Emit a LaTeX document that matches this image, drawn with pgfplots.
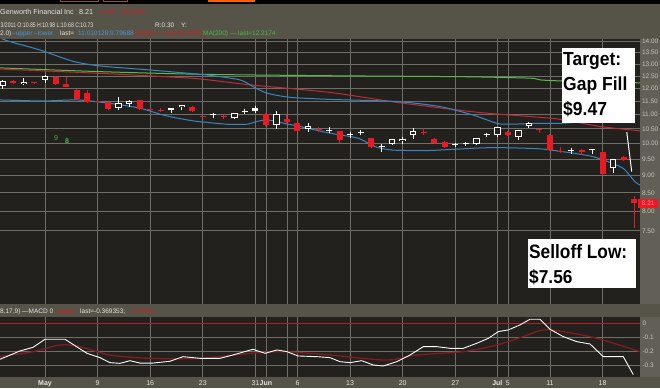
\documentclass[border=0pt]{standalone}
\usepackage{pgfplots}
\pgfplotsset{compat=1.18}
\usepackage{fontspec}
\setmainfont{Liberation Sans}
\definecolor{bgdark}{RGB}{35,33,30}
\definecolor{hdr}{RGB}{86,83,73}
\definecolor{strip}{RGB}{98,95,86}
\definecolor{gridc}{RGB}{112,110,104}
\definecolor{cred}{RGB}{235,25,35}
\definecolor{mared}{RGB}{190,45,55}
\definecolor{magreen}{RGB}{85,190,70}
\definecolor{bbblue}{RGB}{55,135,195}
\definecolor{sigred}{RGB}{130,28,32}
\definecolor{zred}{RGB}{185,30,40}
\definecolor{txtw}{RGB}{230,230,225}
\definecolor{txtb}{RGB}{70,150,215}
\definecolor{txtr}{RGB}{210,30,35}
\definecolor{txtg}{RGB}{70,190,60}
\newcommand\hf{\fontsize{6.5}{7}\selectfont}
% candles: index, open, high, low, close
\newcommand\cR[5]{%
 \addplot[cred, line width=1pt] coordinates {(#1,#4) (#1,#3)};
 \addplot[cred, line width=6pt] coordinates {(#1,#2) (#1,#5)};}
\newcommand\cW[5]{%
 \addplot[white, line width=1pt] coordinates {(#1,#4) (#1,#3)};
 \addplot[white, line width=6.5pt] coordinates {(#1,#2) (#1,#5)};
 \addplot[bgdark, line width=4.5pt, shorten <=1pt, shorten >=1pt] coordinates {(#1,#2) (#1,#5)};}
\newcommand\cX[5]{%
 \addplot[white, line width=1pt] coordinates {(#1,#4) (#1,#3)};
 \addplot[white, line width=6pt] coordinates {(#1,#2) (#1,#5)};}
\begin{document}
\begin{tikzpicture}[x=1pt,y=1pt]
\useasboundingbox (0,0) rectangle (660,388);
\clip (0,0) rectangle (660,388);
\fill[hdr] (0,0) rectangle (660,388);
\fill[black] (0,384) rectangle (660,388);
\fill[orange!75!red] (208,386.2) rectangle (255,388);
\draw[brown!70!black, line width=0.6pt] (60,386.5) rectangle (98,389);
\draw[brown!70!black, line width=0.6pt] (103,386.5) rectangle (127,389);
\fill[strip] (640,11.3) rectangle (660,348.5);
\fill[hdr] (640,71) rectangle (660,84);

\begin{axis}[
 at={(0pt,84pt)}, anchor=south west, scale only axis,
 width=640pt, height=264.5pt,
 xmin=-4.278, xmax=56.56,
 ymode=log, ymin=5.89, ymax=14.10,
 axis background/.style={fill=bgdark},
 axis line style={draw=none},
 major tick length=0pt,
 xtick={0,5,10,15,20,21,23,24,29,34,39,43,44,48,53},
 xticklabels={,,,,,,,,,,,,,,},
 ytick={7.5,8,8.5,9,9.5,10,10.5,11,11.5,12,12.5,13,13.5,14},
 yticklabels={7.50,8.00,8.50,9.00,9.50,10.00,10.50,11.00,11.50,12.00,12.50,13.00,13.50,14.00},
 yticklabel pos=right,
 yticklabel style={font=\fontsize{6.5}{7}\selectfont, text=txtw!85!black, anchor=west, xshift=-1.5pt},
 extra y ticks={8.21}, extra y tick labels={8.21},
 extra y tick style={grid=none, yticklabel style={fill=cred, text=red!45!white, minimum width=20pt, minimum height=9pt, inner sep=0.5pt, anchor=west, xshift=-0.5pt}},
 grid=major, grid style={gridc, line width=0.7pt},
]
% MA(200)
\addplot[magreen, line width=1pt, smooth, tension=0.4] coordinates {(-4.28,12.84) (5.23,12.68) (14.73,12.57) (27.09,12.51) (39.73,12.47) (46.1,12.41) (47.05,12.34) (48.95,12.30) (56.56,12.22)};
% MA(50)
\addplot[mared, line width=1pt, smooth, tension=0.4] coordinates {(-4.28,12.79) (5.23,12.61) (11.41,12.47) (14.73,12.38) (19.49,12.14) (27.09,11.84) (33.75,11.44) (39.92,11.14) (42.78,11.03) (48.67,10.85) (52.76,10.58) (56.56,10.43)};
% Bollinger upper
\addplot[bbblue, line width=1pt, smooth, tension=0.4] coordinates {(-4.28,14.17) (-3.33,14.00) (-0.48,13.62) (2.66,13.12) (5.23,12.92) (9.98,12.75) (15.4,12.54) (18.54,12.34) (19.77,12.07) (21.1,11.81) (23.29,11.65) (27.09,11.57) (33.46,11.49) (37.55,11.30) (40.68,10.99) (42.97,10.69) (44.2,10.66) (46.77,10.69) (48.95,10.69) (52.76,10.78) (55.89,10.88)};
% Bollinger lower
\addplot[bbblue, line width=1pt, smooth, tension=0.4] coordinates {(-4.28,11.55) (-0.19,11.51) (3.04,11.55) (6.18,11.42) (9.03,11.24) (11.41,10.97) (14.07,10.78) (17.3,10.66) (19.2,10.66) (20.15,10.76) (21.2,10.81) (23.0,10.67) (24.24,10.58) (27.09,10.35) (29.75,10.18) (31.37,9.90) (32.98,9.79) (36.12,9.77) (39.26,9.82) (40.87,9.85) (42.78,9.87) (45.44,9.85) (47.34,9.82) (50.19,9.69) (51.81,9.60) (53.04,9.48) (54.94,9.22) (56.08,8.82) (56.56,8.72)};
% candles
\cW{-4}{12.10}{12.32}{11.96}{12.30}
\cR{-3}{12.30}{12.32}{12.19}{12.21}
\cW{-2}{12.18}{12.41}{12.12}{12.27}
\cR{-1}{12.24}{12.25}{12.19}{12.20}
\cW{0}{12.34}{12.52}{12.20}{12.50}
\cR{1}{12.46}{12.51}{12.14}{12.16}
\cR{2}{12.16}{12.44}{12.05}{12.07}
\cR{3}{11.95}{11.97}{11.58}{11.60}
\cR{4}{11.83}{11.92}{11.45}{11.47}
\cR{5}{11.50}{11.51}{11.45}{11.46}
\cR{6}{11.46}{11.47}{11.19}{11.21}
\cW{7}{11.24}{11.68}{11.17}{11.45}
\cW{8}{11.39}{11.53}{11.30}{11.51}
\cR{9}{11.54}{11.56}{11.19}{11.21}
\cR{10}{11.22}{11.24}{11.17}{11.19}
\cR{11}{11.19}{11.26}{11.10}{11.16}
\cX{12}{11.19}{11.25}{11.05}{11.24}
\cW{13}{11.27}{11.37}{11.17}{11.36}
\cR{14}{11.30}{11.33}{11.10}{11.12}
\cR{15}{10.95}{10.97}{10.90}{10.92}
\cX{16}{10.99}{11.08}{10.88}{11.02}
\cR{17}{10.95}{11.00}{10.86}{10.92}
\cW{18}{10.87}{11.06}{10.86}{11.05}
\cX{19}{11.11}{11.21}{11.03}{11.14}
\cX{20}{11.12}{11.33}{11.05}{11.24}
\cR{21}{11.03}{11.06}{10.60}{10.63}
\cW{22}{10.63}{11.12}{10.50}{11.03}
\cR{23}{10.85}{10.98}{10.68}{10.73}
\cR{24}{10.70}{10.72}{10.38}{10.41}
\cW{25}{10.48}{10.70}{10.40}{10.60}
\cR{26}{10.50}{10.56}{10.40}{10.47}
\cX{27}{10.44}{10.57}{10.35}{10.47}
\cR{28}{10.41}{10.43}{10.03}{10.12}
\cX{29}{10.29}{10.40}{10.17}{10.32}
\cX{30}{10.36}{10.46}{10.29}{10.39}
\cR{31}{10.18}{10.20}{9.86}{9.88}
\cX{32}{9.89}{10.00}{9.74}{9.92}
\cW{33}{10.00}{10.16}{9.96}{10.15}
\cW{34}{10.07}{10.23}{10.00}{10.15}
\cW{35}{10.28}{10.52}{10.15}{10.42}
\cR{36}{10.40}{10.52}{10.30}{10.37}
\cR{37}{10.15}{10.17}{10.00}{10.03}
\cR{38}{10.06}{10.08}{9.86}{9.88}
\cX{39}{9.97}{10.02}{9.90}{10.00}
\cX{40}{9.99}{10.05}{9.93}{10.02}
\cW{41}{10.00}{10.18}{9.94}{10.17}
\cX{42}{10.29}{10.37}{10.21}{10.32}
\cW{43}{10.30}{10.58}{10.22}{10.56}
\cR{44}{10.40}{10.42}{10.27}{10.29}
\cW{45}{10.23}{10.47}{10.12}{10.45}
\cW{46}{10.60}{10.75}{10.52}{10.70}
\cR{47}{10.50}{10.51}{10.35}{10.47}
\cR{48}{10.30}{10.32}{9.77}{9.79}
\cR{49}{9.76}{9.90}{9.71}{9.73}
\cX{50}{9.75}{9.87}{9.66}{9.78}
\cR{51}{9.80}{9.81}{9.64}{9.74}
\cX{52}{9.78}{9.81}{9.65}{9.81}
\cR{53}{9.74}{9.76}{9.03}{9.05}
\cW{54}{9.22}{9.52}{9.09}{9.50}
\cR{55}{9.56}{9.60}{9.44}{9.47}
\cR{56}{8.34}{8.40}{7.56}{8.21}
% gap line
\addplot[white, line width=1pt] coordinates {(55.3,10.39) (55.77,9.12)};
\node[text=green!40!gray, font=\fontsize{7}{7}\selectfont] at (axis cs:1.05,10.19) {9};
\node[text=green!50!gray, font=\fontsize{7}{7}\selectfont\bfseries] at (axis cs:2.09,10.09) {8};
\end{axis}

\begin{axis}[
 at={(0pt,11.3pt)}, anchor=south west, scale only axis,
 width=640pt, height=59.7pt,
 xmin=-4.278, xmax=56.56, ymin=-0.384, ymax=0.045,
 axis background/.style={fill=bgdark},
 axis line style={draw=none},
 major tick length=0pt,
 xtick={0,5,10,15,20,21,23,24,29,34,39,43,44,48,53},
 xticklabels={\textbf{May},9,16,23,31,\textbf{Jun},,6,13,20,27,\textbf{Jul},5,11,18},
 xticklabel style={font=\fontsize{7}{8}\selectfont, text=txtw},
 ytick={-0.3,-0.2,-0.1,0},
 yticklabels={-0.3,-0.2,-0.1,0},
 yticklabel pos=right,
 yticklabel style={font=\fontsize{6.5}{7}\selectfont, text=txtw!85!black, anchor=west, xshift=-1pt},
 grid=major, grid style={gridc, line width=0.7pt},
]
\addplot[zred, line width=1pt] coordinates {(-5,0) (57,0)};
\addplot[sigred, line width=1.3pt, smooth, tension=0.5] coordinates {(-4.28,-0.240) (-1.14,-0.204) (1.43,-0.156) (3.33,-0.168) (6.18,-0.228) (9.98,-0.252) (14.73,-0.252) (19.49,-0.216) (22.62,-0.204) (27.09,-0.228) (30.23,-0.252) (32.79,-0.264) (35.36,-0.228) (39.73,-0.204) (42.97,-0.156) (45.44,-0.096) (47.34,-0.048) (49.24,-0.060) (52.47,-0.108) (56.56,-0.204)};
\addplot[white, line width=0.9pt] coordinates {(-4.28,-0.259) (-2.38,-0.199) (-1.14,-0.173) (0,-0.115) (1.90,-0.115) (3.99,-0.216) (5.23,-0.247) (6.18,-0.283) (7.13,-0.288) (8.08,-0.269) (9.03,-0.286) (10.27,-0.286) (11.88,-0.273) (13.12,-0.240) (14.73,-0.252) (16.63,-0.252) (17.87,-0.228) (19.77,-0.187) (20.91,-0.216) (22.05,-0.192) (23.0,-0.204) (24.05,-0.235) (25.86,-0.240) (27.09,-0.247) (28.04,-0.276) (28.99,-0.283) (30.1,-0.269) (31.21,-0.300) (32.16,-0.307) (33.43,-0.276) (34.7,-0.228) (35.96,-0.168) (37.23,-0.168) (38.5,-0.180) (39.76,-0.180) (41.04,-0.144) (42.14,-0.108) (43.09,-0.060) (44.04,-0.048) (45.15,-0.012) (46.1,0.029) (47.05,0.029) (48.0,-0.043) (49.27,-0.096) (50.54,-0.132) (51.81,-0.149) (53.07,-0.240) (54.97,-0.240) (55.92,-0.369)};
\end{axis}

% header texts
\node[anchor=base west, inner sep=0, text=txtw, font=\fontsize{7.2}{8}\selectfont] at (0,373) {Genworth Financial Inc};
\node[anchor=base west, inner sep=0, text=txtw, font=\fontsize{7.2}{8}\selectfont] at (79,373) {8.21};
\node[anchor=base west, inner sep=0, text=txtr, font=\fontsize{7.2}{8}\selectfont] at (98,373) {-1.26\ \ -13.31\%};
\node[anchor=base west, inner sep=0, text=txtw] at (0.5,360.7) {\scalebox{0.78}[1]{\fontsize{6.6}{7}\selectfont 3/2011 O:10.85 H:10.98 L:10.68 C:10.73}};
\node[anchor=base west, inner sep=0, text=txtw, font=\fontsize{6.5}{7}\selectfont] at (155,360.7) {R:0.30};
\node[anchor=base west, inner sep=0, text=txtw, font=\fontsize{6.5}{7}\selectfont] at (181,360.7) {Y:};
\node[anchor=base west, inner sep=0, text=txtw, font=\hf] at (0,352) {2.0)};
\node[anchor=base west, inner sep=0, text=txtb, font=\hf] at (12,352) {--upper --lower};
\node[anchor=base west, inner sep=0, text=txtw, font=\hf] at (60,352) {last=};
\node[anchor=base west, inner sep=0, text=txtb, font=\hf] at (78,352) {11.010128;9.79688};
\node[anchor=base west, inner sep=0, text=txtr, font=\hf] at (134,352) {MA(50) --- last=10.4302};
\node[anchor=base west, inner sep=0, text=txtg, font=\hf] at (203,352) {MA(200) --- last=12.2174};
% MACD band text
\node[anchor=base west, inner sep=0, text=txtw, font=\hf] at (0,75) {8,17,9) ---MACD 0};
\node[anchor=base west, inner sep=0, text=txtr, font=\hf] at (57,75) {signal};
\node[anchor=base west, inner sep=0, text=txtw, font=\hf] at (80,75) {last=-0.369353;};
\node[anchor=base west, inner sep=0, text=txtr, font=\hf] at (131,75) {-0.2046};
% annotation boxes
\fill[white] (562,264.7) rectangle (635,340.3);
\node[anchor=base west, inner sep=0, font=\fontsize{17.5}{20}\bfseries\selectfont] at (563,322.5) {\scalebox{1}[1.08]{Target:}};
\node[anchor=base west, inner sep=0, font=\fontsize{17.5}{20}\bfseries\selectfont] at (563,297.5) {\scalebox{1}[1.08]{Gap Fill}};
\node[anchor=base west, inner sep=0, font=\fontsize{17.5}{20}\bfseries\selectfont] at (563,272.5) {\scalebox{1}[1.08]{\$9.47}};
\fill[white] (528,99.7) rectangle (636,149);
\node[anchor=base west, inner sep=0, font=\fontsize{17.3}{20}\bfseries\selectfont] at (529,129) {\scalebox{1}[1.12]{Selloff Low:}};
\node[anchor=base west, inner sep=0, font=\fontsize{17.3}{20}\bfseries\selectfont] at (529,104.7) {\scalebox{1}[1.08]{\$7.56}};
\end{tikzpicture}
\end{document}
